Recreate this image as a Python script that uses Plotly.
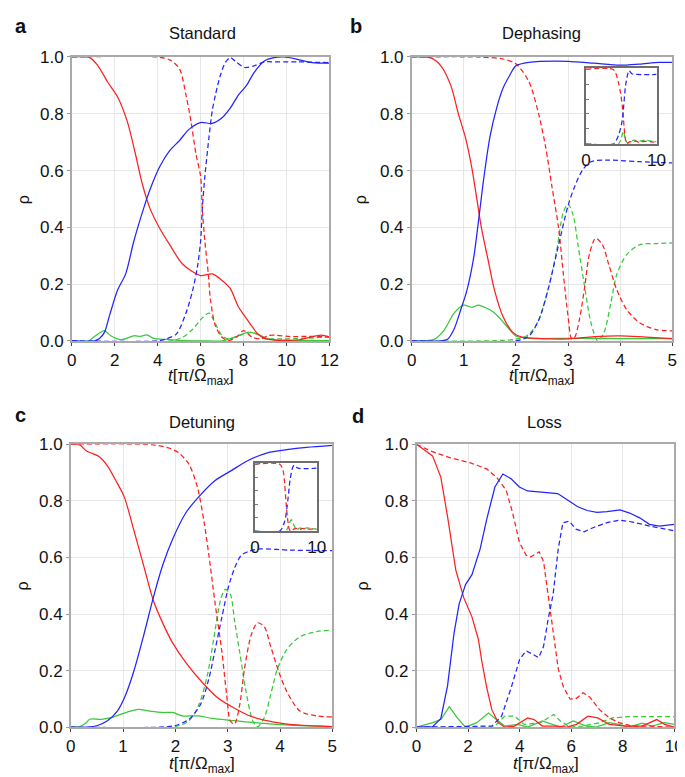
import plotly.graph_objects as go

RED = '#ff1f1f'
BLUE = '#2424ff'
GREEN = '#38c838'
FONT = 'Liberation Sans, Arial, sans-serif'

# ---------------- a: Standard (t in pi/Omega_max, 0..12) ----------------
std_red_solid_t = [0, 0.84, 1.22, 1.67, 2.13, 2.58, 2.96, 3.27, 3.65, 4.1, 4.56, 5.17, 6.0, 6.54, 7.0, 7.38, 7.76, 8.06, 8.4, 8.67, 9.0, 9.43, 10.0, 10.6, 11.1, 11.6, 12.0]
std_red_solid_y = [1.0, 0.998, 0.969, 0.912, 0.86, 0.774, 0.66, 0.557, 0.465, 0.396, 0.339, 0.27, 0.23, 0.236, 0.213, 0.185, 0.12, 0.087, 0.05, 0.024, 0.008, 0.003, 0.002, 0.004, 0.012, 0.02, 0.014]
std_blue_solid_t = [0, 1.06, 1.29, 1.52, 1.75, 2.13, 2.51, 2.89, 3.34, 3.65, 4.1, 4.56, 5.02, 5.47, 6.0, 6.54, 7.0, 7.38, 7.76, 8.14, 8.5, 8.97, 9.43, 9.9, 10.5, 11.2, 12.0]
std_blue_solid_y = [0, 0, 0.008, 0.03, 0.087, 0.178, 0.236, 0.351, 0.465, 0.534, 0.614, 0.67, 0.706, 0.746, 0.769, 0.766, 0.786, 0.82, 0.866, 0.9, 0.946, 0.986, 0.998, 1.0, 0.992, 0.98, 0.978]
std_red_dash_t = [0, 4.0, 4.56, 5.02, 5.32, 5.55, 5.78, 6.0, 6.08, 6.2, 6.36, 6.46, 6.69, 7.0, 7.3, 7.7, 8.0, 8.4, 8.84, 9.15, 9.5, 10.2, 11.0, 12.0]
std_red_dash_y = [1.0, 1.0, 0.99, 0.958, 0.866, 0.775, 0.66, 0.58, 0.465, 0.35, 0.236, 0.145, 0.053, 0.013, 0.001, 0.015, 0.036, 0.013, 0.007, 0.019, 0.02, 0.015, 0.016, 0.014]
std_blue_dash_t = [0, 4.0, 4.4, 4.87, 5.32, 5.63, 5.85, 6.0, 6.08, 6.2, 6.39, 6.54, 6.69, 6.92, 7.15, 7.38, 7.6, 8.05, 8.5, 8.97, 9.3, 10.5, 12.0]
std_blue_dash_y = [0, 0.0, 0.007, 0.024, 0.098, 0.178, 0.259, 0.35, 0.465, 0.58, 0.717, 0.809, 0.866, 0.935, 0.98, 0.998, 0.986, 0.963, 0.969, 0.983, 0.983, 0.983, 0.98]
std_green_solid_t = [0, 0.8, 0.91, 1.22, 1.52, 1.82, 2.28, 2.89, 3.2, 3.5, 3.8, 4.4, 5.0, 6.0, 7.0, 7.3, 7.76, 8.2, 8.65, 9.1, 9.6, 10.5, 12.0]
std_green_solid_y = [0, 0, 0.007, 0.024, 0.036, 0.018, 0.004, 0.018, 0.016, 0.021, 0.009, 0.005, 0.002, 0.0, 0.0, 0.006, 0.018, 0.03, 0.024, 0.008, 0.003, 0.002, 0.001]
std_green_dash_t = [0, 4.6, 5.17, 5.63, 6.08, 6.39, 6.6, 7.0, 7.3, 7.76, 8.37, 8.8, 9.1, 9.6, 10.5, 11.3, 12.0]
std_green_dash_y = [0, 0, 0.013, 0.041, 0.081, 0.098, 0.075, 0.018, 0.007, 0.018, 0.03, 0.018, 0.008, 0.007, 0.008, 0.011, 0.013]

# ---------------- b: Dephasing (0..5) ----------------
dep_red_solid_t = [0, 0.38, 0.56, 0.75, 0.9, 1.03, 1.15, 1.25, 1.34, 1.47, 1.59, 1.75, 1.94, 2.12, 2.5, 3.0, 3.5, 4.0, 4.5, 5.0]
dep_red_solid_y = [1.0, 0.996, 0.969, 0.9, 0.797, 0.717, 0.614, 0.5, 0.396, 0.282, 0.178, 0.087, 0.03, 0.013, 0.008, 0.007, 0.015, 0.018, 0.013, 0.008]
dep_blue_solid_t = [0, 0.56, 0.69, 0.81, 0.94, 1.06, 1.19, 1.28, 1.38, 1.5, 1.63, 1.75, 1.88, 2.0, 2.25, 3.0, 3.5, 4.0, 4.37, 4.75, 5.0]
dep_blue_solid_y = [0, 0.0, 0.006, 0.04, 0.109, 0.178, 0.293, 0.419, 0.568, 0.717, 0.82, 0.889, 0.935, 0.969, 0.981, 0.985, 0.978, 0.971, 0.975, 0.981, 0.981]
dep_green_solid_t = [0, 0.25, 0.44, 0.63, 0.81, 1.0, 1.15, 1.28, 1.44, 1.56, 1.69, 1.85, 2.0, 2.25, 3.1, 4.0, 5.0]
dep_green_solid_y = [0, 0.0, 0.006, 0.04, 0.097, 0.126, 0.118, 0.126, 0.115, 0.103, 0.08, 0.046, 0.017, 0.009, 0.009, 0.008, 0.008]
dep_red_dash_t = [0, 1.25, 1.75, 2.0, 2.25, 2.44, 2.57, 2.69, 2.82, 2.91, 3.0, 3.07, 3.13, 3.22, 3.32, 3.41, 3.53, 3.66, 3.78, 3.94, 4.13, 4.38, 4.69, 5.0]
dep_red_dash_y = [1.0, 1.0, 0.993, 0.976, 0.913, 0.797, 0.683, 0.545, 0.396, 0.236, 0.087, 0.007, 0.013, 0.076, 0.19, 0.305, 0.362, 0.339, 0.27, 0.178, 0.109, 0.063, 0.04, 0.035]
dep_green_dash_t = [0, 2.0, 2.25, 2.44, 2.63, 2.78, 2.91, 3.0, 3.1, 3.19, 3.32, 3.44, 3.57, 3.69, 3.82, 3.94, 4.13, 4.38, 4.7, 5.0]
dep_green_dash_y = [0, 0.006, 0.023, 0.074, 0.19, 0.316, 0.453, 0.482, 0.442, 0.339, 0.19, 0.064, 0.0, 0.029, 0.132, 0.236, 0.305, 0.339, 0.343, 0.345]
dep_blue_dash_t = [0, 2.0, 2.25, 2.44, 2.63, 2.82, 3.0, 3.13, 3.28, 3.44, 3.75, 4.38, 5.0]
dep_blue_dash_y = [0, 0.0, 0.017, 0.074, 0.19, 0.339, 0.476, 0.545, 0.602, 0.631, 0.637, 0.631, 0.627]

# inset of b (0..10)
dep_in_red_t = [0, 3.8, 4.2, 4.6, 4.9, 5.2, 5.4, 5.6, 5.8, 6.2, 6.6, 7.0, 7.5, 8.0, 9.0, 10.0]
dep_in_red_y = [1.0, 1.0, 0.95, 0.82, 0.68, 0.45, 0.22, 0.05, 0.0, 0.03, 0.02, 0.04, 0.02, 0.03, 0.03, 0.02]
dep_in_blue_t = [0, 3.9, 4.3, 4.7, 5.1, 5.35, 5.6, 5.9, 6.1, 6.5, 7.0, 10.0]
dep_in_blue_y = [0, 0.0, 0.05, 0.14, 0.3, 0.52, 0.78, 0.93, 0.98, 0.94, 0.93, 0.93]
dep_in_green_t = [0, 4.6, 5.0, 5.3, 5.6, 5.9, 6.3, 6.8, 7.3, 7.8, 8.5, 9.0, 10.0]
dep_in_green_y = [0, 0.0, 0.08, 0.17, 0.06, 0.01, 0.03, 0.05, 0.03, 0.04, 0.05, 0.04, 0.03]

# ---------------- c: Detuning (0..5) ----------------
det_red_solid_t = [0, 0.17, 0.3, 0.42, 0.55, 0.7, 0.86, 1.02, 1.2, 1.39, 1.58, 1.76, 1.95, 2.2, 2.51, 2.82, 3.13, 3.45, 3.88, 4.38, 5.0]
det_red_solid_y = [1.0, 0.998, 0.976, 0.967, 0.955, 0.924, 0.872, 0.815, 0.7, 0.573, 0.447, 0.367, 0.297, 0.228, 0.159, 0.102, 0.067, 0.038, 0.018, 0.007, 0.002]
det_blue_solid_t = [0, 0.32, 0.51, 0.7, 0.89, 1.05, 1.2, 1.39, 1.58, 1.76, 1.95, 2.2, 2.45, 2.76, 3.07, 3.38, 3.76, 4.13, 4.51, 5.0]
det_blue_solid_y = [0, 0.0, 0.006, 0.023, 0.057, 0.115, 0.195, 0.322, 0.46, 0.574, 0.666, 0.758, 0.815, 0.872, 0.907, 0.942, 0.97, 0.981, 0.989, 0.996]
det_green_solid_t = [0, 0.17, 0.3, 0.36, 0.58, 0.77, 0.96, 1.14, 1.29, 1.51, 1.76, 1.95, 2.13, 2.45, 2.7, 3.13, 3.63, 4.19, 5.0]
det_green_solid_y = [0, 0.002, 0.017, 0.028, 0.028, 0.034, 0.046, 0.057, 0.063, 0.057, 0.052, 0.052, 0.04, 0.04, 0.031, 0.023, 0.014, 0.007, 0.002]
det_red_dash_t = [0, 1.58, 1.89, 2.07, 2.26, 2.42, 2.55, 2.64, 2.76, 2.89, 2.98, 3.05, 3.13, 3.23, 3.32, 3.45, 3.57, 3.7, 3.82, 3.98, 4.13, 4.38, 4.7, 5.0]
det_red_dash_y = [1.0, 0.998, 0.986, 0.969, 0.929, 0.849, 0.723, 0.608, 0.436, 0.264, 0.114, 0.022, 0.011, 0.08, 0.206, 0.326, 0.369, 0.355, 0.286, 0.194, 0.126, 0.057, 0.04, 0.036]
det_green_dash_t = [0, 2.0, 2.26, 2.45, 2.61, 2.73, 2.86, 2.95, 3.05, 3.13, 3.23, 3.35, 3.48, 3.57, 3.7, 3.82, 3.95, 4.13, 4.38, 4.7, 5.0]
det_green_dash_y = [0, 0.002, 0.023, 0.08, 0.183, 0.31, 0.447, 0.487, 0.47, 0.378, 0.264, 0.126, 0.022, 0.002, 0.034, 0.114, 0.206, 0.275, 0.32, 0.338, 0.343]
det_blue_dash_t = [0, 1.7, 2.0, 2.26, 2.48, 2.64, 2.76, 2.89, 3.01, 3.13, 3.26, 3.41, 3.63, 4.19, 5.0]
det_blue_dash_y = [0, 0.0, 0.006, 0.028, 0.08, 0.172, 0.275, 0.39, 0.493, 0.562, 0.608, 0.622, 0.63, 0.626, 0.624]

# inset of c (0..10)
det_in_red_t = [0, 4.0, 4.55, 4.8, 5.08, 5.35, 5.6, 5.9, 6.3, 6.7, 7.2, 7.7, 8.3, 9.0, 10.0]
det_in_red_y = [1.0, 1.0, 0.91, 0.72, 0.38, 0.14, 0.02, 0.0, 0.03, 0.04, 0.02, 0.04, 0.03, 0.03, 0.03]
det_in_blue_t = [0, 4.0, 4.8, 5.35, 5.7, 6.15, 6.4, 6.95, 10.0]
det_in_blue_y = [0, 0.0, 0.14, 0.48, 0.77, 0.96, 0.985, 0.94, 0.94]
det_in_green_t = [0, 5.0, 5.35, 5.9, 6.4, 6.8, 7.3, 7.8, 8.4, 9.0, 10.0]
det_in_green_y = [0, 0.0, 0.06, 0.17, 0.07, 0.02, 0.05, 0.03, 0.05, 0.04, 0.03]

# ---------------- d: Loss (0..10) ----------------
loss_red_solid_t = [0, 0.3, 0.62, 0.94, 1.2, 1.52, 1.83, 2.15, 2.4, 2.53, 2.72, 2.92, 3.17, 3.42, 3.8, 4.31, 4.56, 4.88, 5.45, 5.83, 6.21, 6.65, 7.03, 7.48, 8.11, 8.75, 9.32, 9.63, 10.0]
loss_red_solid_y = [1.0, 0.98, 0.959, 0.884, 0.746, 0.556, 0.458, 0.39, 0.31, 0.234, 0.142, 0.062, 0.016, 0.0, 0.004, 0.033, 0.027, 0.004, 0.004, 0.0, 0.01, 0.039, 0.033, 0.01, 0.004, 0.004, 0.027, 0.01, 0.0]
loss_blue_solid_t = [0, 0.62, 0.94, 1.2, 1.45, 1.65, 1.9, 2.15, 2.47, 2.72, 3.04, 3.35, 3.67, 3.99, 4.3, 4.74, 5.1, 5.48, 5.86, 6.24, 6.62, 7.0, 7.39, 7.9, 8.27, 8.66, 9.04, 9.42, 10.0]
loss_blue_solid_y = [0, 0.002, 0.03, 0.145, 0.33, 0.435, 0.504, 0.539, 0.631, 0.734, 0.849, 0.895, 0.878, 0.849, 0.835, 0.832, 0.828, 0.826, 0.803, 0.78, 0.766, 0.759, 0.762, 0.768, 0.757, 0.74, 0.717, 0.711, 0.717]
loss_red_dash_t = [0, 0.55, 1.31, 2.07, 2.72, 3.1, 3.48, 3.73, 3.99, 4.25, 4.44, 4.76, 4.93, 5.1, 5.3, 5.5, 5.7, 5.96, 6.21, 6.46, 6.72, 7.1, 7.48, 7.86, 8.37, 8.87, 10.0]
loss_red_dash_y = [1.0, 0.976, 0.952, 0.935, 0.913, 0.884, 0.837, 0.757, 0.654, 0.608, 0.602, 0.62, 0.585, 0.47, 0.344, 0.206, 0.142, 0.099, 0.102, 0.122, 0.107, 0.062, 0.033, 0.016, 0.004, 0.004, 0.0]
loss_blue_dash_t = [0, 2.92, 3.3, 3.68, 4.0, 4.25, 4.5, 4.74, 4.93, 5.1, 5.3, 5.5, 5.68, 5.93, 6.18, 6.5, 6.87, 7.39, 7.9, 8.4, 9.04, 10.0]
loss_blue_dash_y = [0, 0.004, 0.039, 0.142, 0.24, 0.27, 0.258, 0.246, 0.286, 0.378, 0.47, 0.631, 0.723, 0.728, 0.7, 0.691, 0.706, 0.723, 0.732, 0.725, 0.711, 0.694]
loss_green_solid_t = [0, 0.63, 0.95, 1.27, 1.58, 1.9, 2.34, 2.79, 3.17, 3.42, 3.93, 4.31, 4.88, 5.32, 5.58, 6.08, 6.59, 6.97, 7.48, 7.86, 8.24, 8.75, 9.13, 9.63, 10.0]
loss_green_solid_y = [0, 0.016, 0.028, 0.073, 0.033, 0.0, 0.016, 0.05, 0.022, 0.004, 0.01, 0.0, 0.022, 0.007, 0.0, 0.022, 0.004, 0.0, 0.016, 0.01, 0.0, 0.014, 0.004, 0.016, 0.01]
loss_green_dash_t = [0, 2.9, 3.04, 3.42, 3.8, 4.18, 4.82, 5.32, 5.58, 5.96, 6.46, 7.1, 7.6, 8.24, 10.0]
loss_green_dash_y = [0, 0.0, 0.004, 0.039, 0.039, 0.01, 0.016, 0.045, 0.022, 0.0, 0.004, 0.016, 0.033, 0.037, 0.037]


def px_x(p):
    return p / 685


def px_y(p):
    return 1 - p / 777


fig = go.Figure()


def add_line(t, y, color, dashed, ax, smooth=True):
    fig.add_trace(go.Scatter(
        x=t, y=y, mode='lines', xaxis='x' + ax, yaxis='y' + ax, showlegend=False,
        line={'color': color, 'width': 1.25, 'dash': '5px,3px' if dashed else 'solid',
              'shape': 'spline' if smooth else 'linear', 'smoothing': 0.8},
    ))


# panel a
add_line(std_green_solid_t, std_green_solid_y, GREEN, False, '')
add_line(std_green_dash_t, std_green_dash_y, GREEN, True, '')
add_line(std_red_solid_t, std_red_solid_y, RED, False, '')
add_line(std_red_dash_t, std_red_dash_y, RED, True, '')
add_line(std_blue_solid_t, std_blue_solid_y, BLUE, False, '')
add_line(std_blue_dash_t, std_blue_dash_y, BLUE, True, '')
# panel b
add_line(dep_green_solid_t, dep_green_solid_y, GREEN, False, '2')
add_line(dep_green_dash_t, dep_green_dash_y, GREEN, True, '2')
add_line(dep_red_solid_t, dep_red_solid_y, RED, False, '2')
add_line(dep_red_dash_t, dep_red_dash_y, RED, True, '2')
add_line(dep_blue_solid_t, dep_blue_solid_y, BLUE, False, '2')
add_line(dep_blue_dash_t, dep_blue_dash_y, BLUE, True, '2')
# panel c
add_line(det_green_solid_t, det_green_solid_y, GREEN, False, '3')
add_line(det_green_dash_t, det_green_dash_y, GREEN, True, '3')
add_line(det_red_solid_t, det_red_solid_y, RED, False, '3')
add_line(det_red_dash_t, det_red_dash_y, RED, True, '3')
add_line(det_blue_solid_t, det_blue_solid_y, BLUE, False, '3')
add_line(det_blue_dash_t, det_blue_dash_y, BLUE, True, '3')
# panel d (piecewise linear look)
add_line(loss_green_solid_t, loss_green_solid_y, GREEN, False, '4', smooth=False)
add_line(loss_green_dash_t, loss_green_dash_y, GREEN, True, '4', smooth=False)
add_line(loss_red_solid_t, loss_red_solid_y, RED, False, '4', smooth=False)
add_line(loss_red_dash_t, loss_red_dash_y, RED, True, '4', smooth=False)
add_line(loss_blue_solid_t, loss_blue_solid_y, BLUE, False, '4', smooth=False)
add_line(loss_blue_dash_t, loss_blue_dash_y, BLUE, True, '4', smooth=False)
# insets
add_line(dep_in_green_t, dep_in_green_y, GREEN, True, '5')
add_line(dep_in_red_t, dep_in_red_y, RED, True, '5')
add_line(dep_in_blue_t, dep_in_blue_y, BLUE, True, '5')
add_line(det_in_green_t, det_in_green_y, GREEN, True, '6')
add_line(det_in_red_t, det_in_red_y, RED, True, '6')
add_line(det_in_blue_t, det_in_blue_y, BLUE, True, '6')

tick_font = {'family': FONT, 'size': 17, 'color': '#111'}
main_x = dict(showline=True, mirror=True, linecolor='#aaaaaa', linewidth=1.5, showgrid=True,
              gridcolor='#e6e6e6', gridwidth=1, zeroline=False, ticks='outside', ticklen=3,
              tickcolor='#444', tickfont=tick_font)
main_y = dict(main_x, range=[0, 1], tickvals=[0, 0.2, 0.4, 0.6, 0.8, 1.0], tickformat='.1f', tickcolor='#999')
inset_x = dict(showline=True, mirror=True, linecolor='#6e6e6e', linewidth=1.5, showgrid=False,
               zeroline=False, range=[0, 10], tickvals=[0, 10], ticks='', tickfont=tick_font)
inset_y = dict(showline=True, mirror=True, linecolor='#6e6e6e', linewidth=1.5, showgrid=False,
               zeroline=False, range=[0, 1.02], tickvals=[0, 0.2, 0.4, 0.6, 0.8, 1.0], ticks='inside',
               ticklen=3, tickcolor='#777', showticklabels=False)

fig.update_layout(
    width=685, height=777, margin=dict(l=0, r=0, t=0, b=0),
    paper_bgcolor='white', plot_bgcolor='white',
    font={'family': FONT, 'size': 17, 'color': '#111'},
    xaxis=dict(main_x, domain=[px_x(60), px_x(323)], range=[0, 12], tickvals=[0, 2, 4, 6, 8, 10, 12], anchor='y'),
    yaxis=dict(main_y, domain=[px_y(332), px_y(41)], anchor='x'),
    xaxis2=dict(main_x, domain=[px_x(407), px_x(673)], range=[0, 5], tickvals=[0, 1, 2, 3, 4, 5], anchor='y2'),
    yaxis2=dict(main_y, domain=[px_y(332), px_y(41)], anchor='x2'),
    xaxis3=dict(main_x, domain=[px_x(59), px_x(326)], range=[0, 5], tickvals=[0, 1, 2, 3, 4, 5], anchor='y3'),
    yaxis3=dict(main_y, domain=[px_y(728), px_y(438)], anchor='x3'),
    xaxis4=dict(main_x, domain=[px_x(412), px_x(675)], range=[0, 10], tickvals=[0, 2, 4, 6, 8, 10], anchor='y4'),
    yaxis4=dict(main_y, domain=[px_y(728), px_y(438)], anchor='x4'),
    xaxis5=dict(inset_x, domain=[px_x(585), px_x(657)], anchor='y5'),
    yaxis5=dict(inset_y, domain=[px_y(130), px_y(52)], anchor='x5'),
    xaxis6=dict(inset_x, domain=[px_x(247), px_x(310)], anchor='y6'),
    yaxis6=dict(inset_y, domain=[px_y(527), px_y(457)], anchor='x6'),
)

xlabel = '<i>t</i>[π/Ω<sub>max</sub>]'
notes = [
    # (text, x px, y px, size, angle)
    ('<b>a</b>', 8, 9, 20, 0), ('<b>b</b>', 350, 9, 20, 0),
    ('<b>c</b>', 8, 408, 20, 0), ('<b>d</b>', 352, 409, 20, 0),
    ('Standard', 193, 16, 16.5, 0), ('Dephasing', 540, 16, 16.5, 0),
    ('Detuning', 193, 415, 16.5, 0), ('Loss', 543, 415, 16.5, 0),
    ('ρ', 11, 187, 16, -90), ('ρ', 355, 187, 16, -90),
    ('ρ', 10, 583, 16, -90), ('ρ', 357, 583, 16, -90),
    (xlabel, 192, 369, 17, 0), (xlabel, 540, 369, 17, 0),
    (xlabel, 193, 767, 17, 0), (xlabel, 544, 767, 17, 0),
]
for text, x, y, size, angle in notes:
    fig.add_annotation(text=text, x=px_x(x), y=px_y(y), xref='paper', yref='paper', showarrow=False,
                       xanchor='center', yanchor='middle', textangle=angle,
                       font={'family': FONT, 'size': size, 'color': '#111'})

fig.write_html("out.html")
